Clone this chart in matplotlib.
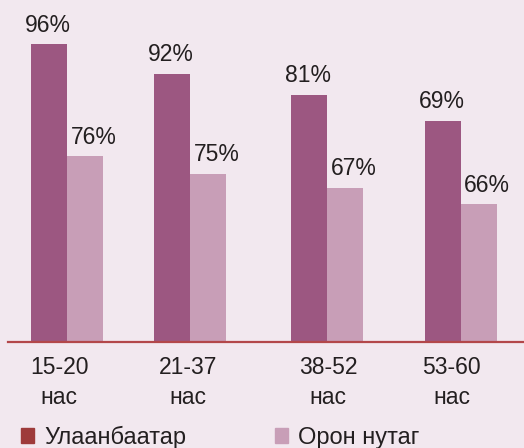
import matplotlib.pyplot as plt
import matplotlib.patches as mpatches

plt.rcParams["font.family"] = ["Liberation Sans", "DejaVu Sans"]

age_groups = ["15-20\nнас", "21-37\nнас", "38-52\nнас", "53-60\nнас"]
ub_pct = [96, 92, 81, 69]
rural_pct = [76, 75, 67, 66]
# bar lengths as drawn in the source graphic (not to scale with the labels)
ub_bar = [96.1, 86.5, 79.7, 71.3]
rural_bar = [60.0, 54.2, 49.7, 44.5]

BG = "#f2e8ef"
DARK = "#9c5781"
LIGHT = "#c89eb7"
TEXT = "#231f20"

fig = plt.figure(figsize=(5.24, 4.48), dpi=100, facecolor=BG)
ax = fig.add_axes([8 / 524, 106 / 448, 516 / 524, 342 / 448])
ax.set_facecolor(BG)

# group centres (uneven spacing as in the original layout)
centres = [0.0, 0.937, 1.98, 3.0]
label_pos = [-0.06, 0.92, 1.99, 2.93]
w = 36 / 131.33

x_ub = [c - w / 2 for c in centres]
x_ru = [c + w / 2 for c in centres]
bars_ub = ax.bar(x_ub, ub_bar, width=w, color=DARK)
bars_ru = ax.bar(x_ru, rural_bar, width=w, color=LIGHT)

for b, v in zip(bars_ub, ub_pct):
    ax.annotate(f"{v}%", (b.get_x() + b.get_width() / 2, b.get_height()),
                xytext=(-1, 9), textcoords="offset points",
                ha="center", va="baseline", fontsize=16.5, color=TEXT)
for b, v in zip(bars_ru, rural_pct):
    ax.annotate(f"{v}%", (b.get_x() + b.get_width() / 2, b.get_height()),
                xytext=(6, 9), textcoords="offset points",
                ha="center", va="baseline", fontsize=16.5, color=TEXT)

ax.set_xlim(-59 / 131.33, (524 - 67) / 131.33)
ax.set_ylim(0, 342 / 3.1)

for s in ["top", "right", "left"]:
    ax.spines[s].set_visible(False)
ax.spines["bottom"].set_color("#b3474a")
ax.spines["bottom"].set_linewidth(1.6)
ax.set_yticks([])
ax.set_xticks(label_pos)
ax.set_xticklabels(age_groups, fontsize=16.5, color=TEXT, linespacing=1.38)
ax.tick_params(axis="x", length=0, pad=10)

handles = [mpatches.Patch(color="#9e3b3b", label="Улаанбаатар"),
           mpatches.Patch(color=LIGHT, label="Орон нутаг")]
fig.legend(handles=handles, loc="lower left", bbox_to_anchor=(0 / 524, -22 / 448),
           ncol=2, frameon=False, fontsize=17, handlelength=0.55,
           handleheight=0.55, handletextpad=0.42, columnspacing=3.75,
           labelcolor=TEXT)

fig.savefig("out.png", dpi=100, facecolor=BG)
